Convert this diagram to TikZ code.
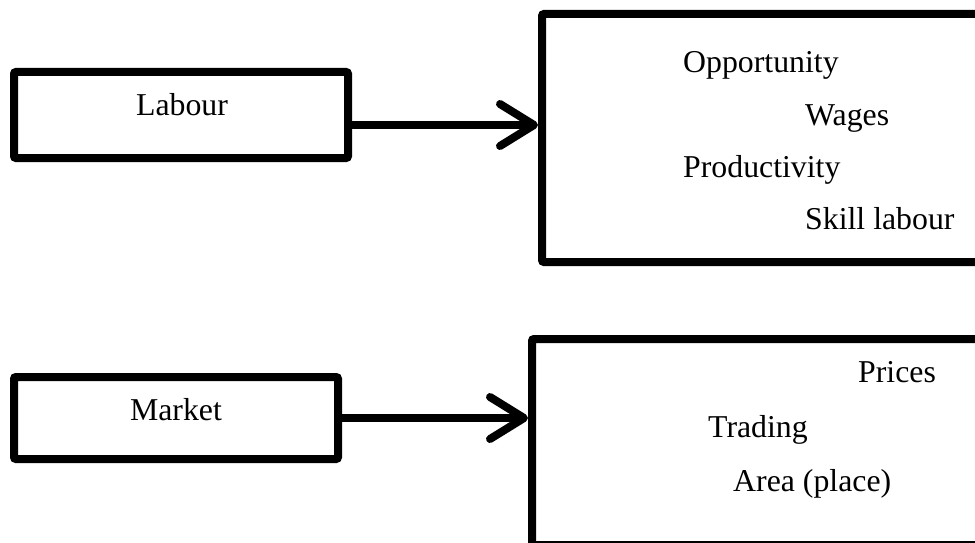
\documentclass[tikz,border=0pt]{standalone}
\usepackage{fontspec}
\setmainfont{Liberation Serif}
\usetikzlibrary{arrows.meta,calc}
\begin{document}
\begin{tikzpicture}[x=1pt,y=-1pt,
  thickbox/.style={draw, line width=8pt, rounded corners=2pt, inner sep=0pt},
  word/.style={anchor=base west, inner sep=0pt, font=\fontsize{31.8}{38}\selectfont},
  cword/.style={anchor=base, inner sep=0pt, font=\fontsize{31.8}{38}\selectfont},
  link/.style={line width=8pt, -{Straight Barb[length=34pt, width=42pt, round]}}]
\clip (0,0) rectangle (975,543);
\fill[white] (0,0) rectangle (975,543);
% left boxes
\node[thickbox, minimum width=334pt, minimum height=86pt] (labour) at (181,115) {};
\node[cword] (labourtext) at (182,115) {Labour};
\node[thickbox, minimum width=324pt, minimum height=82pt] (market) at (176,418) {};
\node[cword] (markettext) at (176,420) {Market};
% right boxes
\node[thickbox, minimum width=460pt, minimum height=248pt] (big1) at (772,138) {};
\node[thickbox, minimum width=470pt, minimum height=206pt] (big2) at (767,442) {};
% texts
\node[word] (t1) at (683,73) {Opportunity};
\node[word] (t2) at (805,125) {Wages};
\node[word] (t3) at (683,177) {Productivity};
\node[word] (t4) at (805,229) {Skill labour};
\node[word] (t5) at (858,382) {Prices};
\node[word] (t6) at (708,437) {Trading};
\node[word] (t7) at (733,491) {Area (place)};
% arrows
\draw[link] (labour.east |- 0,125) -- (big1.west |- 0,125);
\draw[link] (market.east) -- (market.east -| big2.west);
\end{tikzpicture}
\end{document}
